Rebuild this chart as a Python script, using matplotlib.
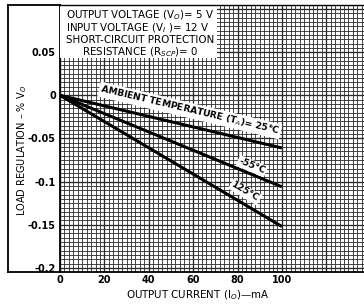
import numpy as np
import matplotlib
matplotlib.use("Agg")
import matplotlib.pyplot as plt
from matplotlib.patches import Rectangle
from matplotlib.lines import Line2D

# --- data ---
current_ma = [0, 100]
reg_25c = [0, -0.061]
reg_m55c = [0, -0.106]
reg_125c = [0, -0.152]

x_ticks = [0, 20, 40, 60, 80, 100]
y_ticks = [0.05, 0, -0.05, -0.1, -0.15, -0.2]
y_tick_labels = ["0.05", "0", "-0.05", "-0.1", "-0.15", "-0.2"]

curve_labels = [
    ("AMBIENT TEMPERATURE (T$_A$)= 25°C", 58.5, -0.0175, reg_25c),
    ("-55°C", 86.5, -0.082, reg_m55c),
    ("125°C", 83.5, -0.112, reg_125c),
]

W, H = 364, 307
fig = plt.figure(figsize=(W / 100, H / 100), dpi=100)
plt.rcParams['font.family'] = 'DejaVu Sans'

ax_l, ax_r, ax_t, ax_b = 60, 364, 5, 272
ax = fig.add_axes([ax_l / W, 1 - ax_b / H, (ax_r - ax_l) / W, (ax_b - ax_t) / H])
ax.set_xlim(0, 137)
ax.set_ylim(-0.2047, 0.1047)

# graph-paper grid
for xv in np.arange(0, 138, 2):
    ax.axvline(xv, color='#2a2a2a', lw=0.95 if xv % 20 == 0 else 0.6, zorder=1)
for yv in np.arange(-0.2, 0.1051, 0.005):
    major = abs(round(yv / 0.05) * 0.05 - yv) < 1e-6
    ax.axhline(yv, color='#2a2a2a', lw=0.95 if major else 0.6, zorder=1)

for s in ['top', 'right']:
    ax.spines[s].set_visible(False)
ax.spines['left'].set_linewidth(1.3)
ax.spines['bottom'].set_linewidth(1.3)

ax.set_xticks(x_ticks)
ax.set_yticks(y_ticks)
ax.set_yticklabels(y_tick_labels)
ax.tick_params(length=0, labelsize=7, pad=3)
ax.tick_params(axis='x', pad=2.5)
for t in ax.get_xticklabels() + ax.get_yticklabels():
    t.set_fontweight('bold')

# info box (white patch over grid)
ax.add_patch(Rectangle((0, 0.043), 70.7, 0.07, facecolor='white', edgecolor='none', zorder=3))
box_lines = ["OUTPUT VOLTAGE (V$_O$)= 5 V", "INPUT VOLTAGE (V$_I$ )= 12 V",
             "SHORT-CIRCUIT PROTECTION", "RESISTANCE (R$_{SCP}$)= 0"]
ys = [15, 28, 40, 52]
for i, (txt, yy) in enumerate(zip(box_lines, ys)):
    if i < 3:
        fig.text(66 / W, 1 - yy / H, txt, fontsize=7.4, ha='left', va='center', zorder=5)
    else:
        fig.text(140 / W, 1 - yy / H, txt, fontsize=7.4, ha='center', va='center', zorder=5)

# curves
for yv in [reg_25c, reg_m55c, reg_125c]:
    ax.plot(current_ma, yv, color='black', lw=2.2, zorder=4, solid_capstyle='butt')

fig.canvas.draw()
for txt, tx, ty, yv in curve_labels:
    p0 = ax.transData.transform((current_ma[0], yv[0]))
    p1 = ax.transData.transform((current_ma[1], yv[1]))
    ang = np.degrees(np.arctan2(p1[1] - p0[1], p1[0] - p0[0]))
    ax.text(tx, ty, txt, rotation=ang, rotation_mode='anchor', ha='center', va='center',
            fontsize=6.6, fontweight='bold', zorder=6,
            bbox=dict(facecolor='white', edgecolor='none', pad=1.0))

# outer frame on the left
fig.add_artist(Line2D([8 / W, 8 / W], [1 - ax_t / H, 1 - ax_b / H], color='black', lw=1.3))
fig.add_artist(Line2D([8 / W, ax_l / W], [1 - ax_t / H, 1 - ax_t / H], color='black', lw=1.3))
fig.add_artist(Line2D([8 / W, ax_l / W], [1 - ax_b / H, 1 - ax_b / H], color='black', lw=1.3))
fig.add_artist(Line2D([ax_l / W, 1], [1 - ax_t / H, 1 - ax_t / H], color='black', lw=1.0))

fig.text(22 / W, 1 - 150 / H, "LOAD REGULATION – % V$_O$", rotation=90, fontsize=7,
         ha='center', va='center')
fig.text(198 / W, 1 - 295 / H, "OUTPUT CURRENT (I$_O$)—mA", fontsize=7.4,
         ha='center', va='center')

fig.savefig("out.png", dpi=100)
